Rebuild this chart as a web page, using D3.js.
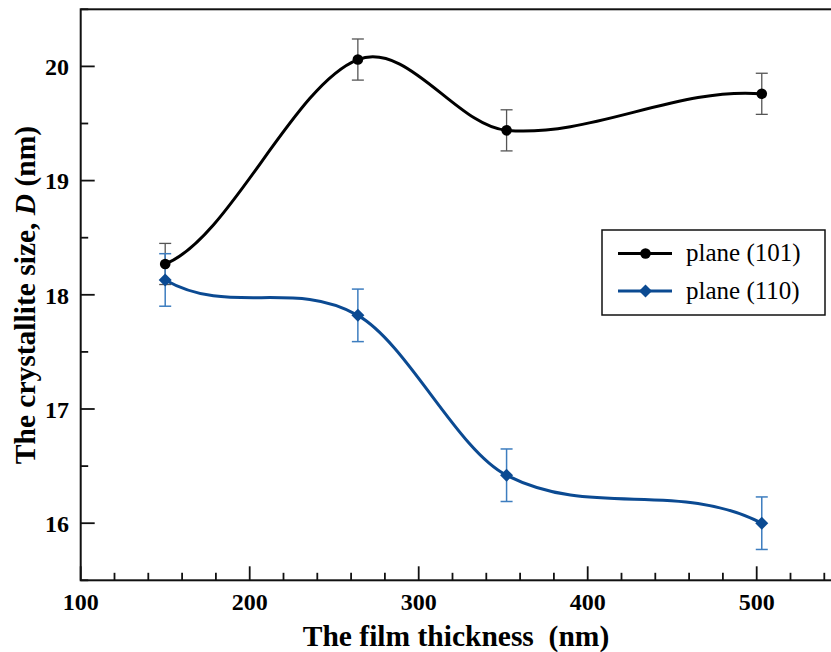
<!DOCTYPE html>
<html><head><meta charset="utf-8">
<script src="https://cdn.jsdelivr.net/npm/d3@7"></script>
<style>body{margin:0;background:#fff}svg{display:block}</style>
</head><body><svg id="c" width="831" height="652"></svg>
<script>
const thickness = [150, 264, 352, 503];
const plane101 = [18.27, 20.06, 19.44, 19.76];
const err101 = [0.18, 0.18, 0.18, 0.18];
const plane110 = [18.13, 17.82, 16.42, 16.00];
const err110 = [0.23, 0.23, 0.23, 0.23];
const xTickLabels = [100, 200, 300, 400, 500];
const yTickLabels = [16, 17, 18, 19, 20];
const seriesNames = ["plane (101)", "plane (110)"];

const FONT = "'Liberation Serif', 'Times New Roman', Times, 'DejaVu Serif', serif";
const svg = d3.select("#c").style("font-family", FONT);
const x = d3.scaleLinear().domain([100, 550]).range([80.7, 841.2]);
const y = d3.scaleLinear().domain([15.5, 20.5]).range([580.3, 9.3]);
const black = "#000", blue = "#0b4a92";

// Hermite spline curve (Catmull-Rom interior tangents, end tangent = neighbour tangent)
function SplineCurve(context) { this._context = context; }
SplineCurve.prototype = {
  areaStart() { this._line = 0; }, areaEnd() { this._line = NaN; },
  lineStart() { this._xs = []; this._ys = []; },
  point(px, py) { this._xs.push(+px); this._ys.push(+py); },
  lineEnd() {
    const X = this._xs, Y = this._ys, n = X.length, c = this._context;
    if (!n) return;
    c.moveTo(X[0], Y[0]);
    if (n < 3) { for (let i = 1; i < n; i++) c.lineTo(X[i], Y[i]); return; }
    const t = new Array(n);
    for (let i = 1; i < n - 1; i++) t[i] = (Y[i + 1] - Y[i - 1]) / (X[i + 1] - X[i - 1]);
    t[0] = t[1]; t[n - 1] = t[n - 2];
    for (let i = 0; i < n - 1; i++) {
      const h = X[i + 1] - X[i];
      c.bezierCurveTo(X[i] + h / 3, Y[i] + t[i] * h / 3, X[i + 1] - h / 3, Y[i + 1] - t[i + 1] * h / 3, X[i + 1], Y[i + 1]);
    }
  }
};
const curveSpline = ctx => new SplineCurve(ctx);

// frame
svg.append("rect").attr("x", x(100)).attr("y", y(20.5)).attr("width", x(550)-x(100)).attr("height", y(15.5)-y(20.5))
  .attr("fill", "none").attr("stroke", "#111").attr("stroke-width", 2);

// x ticks
const xMinor = d3.range(120, 550, 20).filter(v => v % 100 !== 0);
svg.append("g").selectAll("line").data(xMinor).join("line")
  .attr("x1", d => x(d)).attr("x2", d => x(d)).attr("y1", y(15.5)).attr("y2", y(15.5) - 7.5)
  .attr("stroke", "#111").attr("stroke-width", 1.8);
svg.append("g").selectAll("line").data(xTickLabels).join("line")
  .attr("x1", d => x(d)).attr("x2", d => x(d)).attr("y1", y(15.5)).attr("y2", y(15.5) - 14)
  .attr("stroke", "#111").attr("stroke-width", 1.8);
svg.append("g").selectAll("text").data(xTickLabels).join("text")
  .attr("x", d => x(d)).attr("y", 610).attr("text-anchor", "middle").attr("font-family", FONT)
  .attr("font-size", 24).attr("font-weight", "bold").text(d => d);

// y ticks
const yMinor = d3.range(15.5, 20.6, 0.5).filter(v => Math.abs(v - Math.round(v)) > 0.01);
svg.append("g").selectAll("line").data(yMinor).join("line")
  .attr("x1", x(100)).attr("x2", x(100) + 7.5).attr("y1", d => y(d)).attr("y2", d => y(d))
  .attr("stroke", "#111").attr("stroke-width", 1.8);
svg.append("g").selectAll("line").data(yTickLabels).join("line")
  .attr("x1", x(100)).attr("x2", x(100) + 14).attr("y1", d => y(d)).attr("y2", d => y(d))
  .attr("stroke", "#111").attr("stroke-width", 1.8);
svg.append("g").selectAll("text").data(yTickLabels).join("text")
  .attr("x", 69).attr("y", d => y(d) + 8.7).attr("text-anchor", "end").attr("font-family", FONT)
  .attr("font-size", 24).attr("font-weight", "bold").text(d => d);

// axis titles
svg.append("text").attr("x", 456).attr("y", 646).attr("text-anchor", "middle").attr("font-family", FONT)
  .attr("font-size", 29.5).attr("font-weight", "bold")
  .text("The film thickness\u00a0 (nm)");
const yt = svg.append("text").attr("transform", "translate(35,295) rotate(-90)").attr("text-anchor", "middle")
  .attr("font-family", FONT).attr("font-size", 29.5).attr("font-weight", "bold");
yt.append("tspan").text("The crystallite size, ");
yt.append("tspan").attr("font-style", "italic").text("D");
yt.append("tspan").text(" (nm)");

const line = d3.line().x(d => x(d[0])).y(d => y(d[1])).curve(curveSpline);
const s101 = thickness.map((t, i) => [t, plane101[i], err101[i]]);
const s110 = thickness.map((t, i) => [t, plane110[i], err110[i]]);

function errorBars(data, color, w) {
  const g = svg.append("g").attr("stroke", color).attr("stroke-width", w);
  data.forEach(d => {
    g.append("line").attr("x1", x(d[0])).attr("x2", x(d[0])).attr("y1", y(d[1] - d[2])).attr("y2", y(d[1] + d[2]));
    g.append("line").attr("x1", x(d[0]) - 6).attr("x2", x(d[0]) + 6).attr("y1", y(d[1] - d[2])).attr("y2", y(d[1] - d[2]));
    g.append("line").attr("x1", x(d[0]) - 6).attr("x2", x(d[0]) + 6).attr("y1", y(d[1] + d[2])).attr("y2", y(d[1] + d[2]));
  });
}
errorBars(s101, "#555", 1.3);
errorBars(s110, "#3d7dbf", 1.5);

svg.append("path").datum(s101).attr("d", line).attr("fill", "none").attr("stroke", black).attr("stroke-width", 3);
svg.append("path").datum(s110).attr("d", line).attr("fill", "none").attr("stroke", blue).attr("stroke-width", 3);

const diamond = "M0,-6.5L6.5,0L0,6.5L-6.5,0Z";
svg.append("g").selectAll("circle").data(s101).join("circle")
  .attr("cx", d => x(d[0])).attr("cy", d => y(d[1])).attr("r", 5.3).attr("fill", black);
svg.append("g").selectAll("path").data(s110).join("path")
  .attr("transform", d => `translate(${x(d[0])},${y(d[1])})`).attr("d", diamond).attr("fill", blue);

// legend
const lg = svg.append("g");
lg.append("rect").attr("x", 602).attr("y", 230).attr("width", 223).attr("height", 85)
  .attr("fill", "#fff").attr("stroke", "#111").attr("stroke-width", 1.5);
const items = [{name: seriesNames[0], color: black, sym: "c", yy: 253.5}, {name: seriesNames[1], color: blue, sym: "d", yy: 291}];
items.forEach(it => {
  lg.append("line").attr("x1", 618).attr("x2", 672).attr("y1", it.yy).attr("y2", it.yy).attr("stroke", it.color).attr("stroke-width", 3);
  if (it.sym === "c") lg.append("circle").attr("cx", 645.5).attr("cy", it.yy).attr("r", 5.3).attr("fill", it.color);
  else lg.append("path").attr("transform", `translate(645.5,${it.yy})`).attr("d", diamond).attr("fill", it.color);
  lg.append("text").attr("x", 686).attr("y", it.yy + 7.5).attr("font-family", FONT).attr("font-size", 25).text(it.name);
});
</script></body></html>
